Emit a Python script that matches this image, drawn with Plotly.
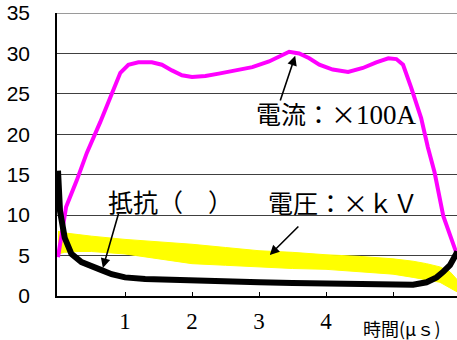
import plotly.graph_objects as go

# --- data (time in µs) ---
current_t = [0, 0.05, 0.12, 0.28, 0.43, 0.63, 0.81, 0.93, 1.05, 1.2, 1.4, 1.55, 1.7, 1.85, 2.0, 2.2,
             2.4, 2.65, 2.9, 3.15, 3.3, 3.45, 3.6, 3.75, 3.9, 4.1, 4.33, 4.55, 4.75, 4.93, 5.05,
             5.15, 5.27, 5.42, 5.52, 5.62, 5.75, 5.85, 5.93, 5.96]
current_v = [4.8, 7.5, 11.0, 14.3, 17.7, 21.5, 25.2, 27.6, 28.6, 28.9, 28.9, 28.6, 27.9, 27.3, 27.1, 27.2,
             27.5, 27.9, 28.3, 29.0, 29.6, 30.2, 30.0, 29.4, 28.6, 28.0, 27.7, 28.2, 28.9, 29.4, 29.3,
             28.6, 25.8, 22.0, 18.4, 15.3, 9.9, 7.5, 5.5, 5.0]

voltage_t = [0, 0.1, 0.3, 0.5, 1.0, 1.5, 2.0, 2.5, 3.0, 3.5, 4.0, 4.5, 5.0, 5.3, 5.5, 5.7, 5.85, 5.96]
voltage_hi = [8.0, 7.8, 7.6, 7.4, 7.0, 6.7, 6.4, 6.0, 5.6, 5.4, 5.1, 4.9, 4.6, 4.3, 4.0, 3.6, 3.0, 2.0]
voltage_lo = [5.2, 5.4, 5.5, 5.5, 5.2, 4.6, 4.0, 3.8, 3.6, 3.4, 3.3, 3.0, 2.7, 2.3, 2.0, 1.7, 1.0, 0.5]

resist_t = [0, 0.03, 0.1, 0.2, 0.35, 0.5, 0.65, 0.8, 1.0, 1.3, 1.6, 2.0, 2.5, 3.0, 3.5, 4.0, 4.5,
            5.0, 5.3, 5.5, 5.65, 5.75, 5.85, 5.93, 5.96]
resist_v = [15.5, 10.5, 7.2, 5.2, 4.2, 3.6, 3.2, 2.7, 2.3, 2.1, 2.0, 1.9, 1.8, 1.7, 1.6, 1.5, 1.4,
            1.3, 1.4, 1.7, 2.3, 3.0, 3.8, 5.0, 5.5]

y_ticks = [0, 5, 10, 15, 20, 25, 30, 35]
x_tick_vals = [1, 2, 3, 4, 5]
x_tick_text = ["1", "2", "3", "4", ""]

W, H = 457, 340
L, R, T, B = 57, 0, 13, 44
PW, PH = W - L - R, H - T - B

fig = go.Figure()

fig.add_trace(go.Scatter(x=voltage_t, y=voltage_lo, mode="lines",
                         line=dict(color="#ffff00", width=1), hoverinfo="skip", showlegend=False))
fig.add_trace(go.Scatter(x=voltage_t, y=voltage_hi, mode="lines", fill="tonexty",
                         fillcolor="#ffff00", line=dict(color="#ffff00", width=1),
                         showlegend=False))
fig.add_trace(go.Scatter(x=current_t, y=current_v, mode="lines",
                         line=dict(color="#ff00ff", width=4), showlegend=False))
fig.add_trace(go.Scatter(x=resist_t, y=resist_v, mode="lines",
                         line=dict(color="#000000", width=6), showlegend=False))

jp = "Noto Sans CJK JP"

# top border
fig.add_shape(type="line", xref="paper", yref="y", x0=0, x1=1, y0=35, y1=35,
              line=dict(color="#9a9a9a", width=2))

ann = []
for (hx, hy, tx, ty) in [(3.54, 29.7, 3.31, 24.0), (0.67, 3.46, 0.91, 10.4), (3.16, 5.07, 3.61, 8.78)]:
    ann.append(dict(x=hx, y=hy, ax=tx, ay=ty, xref="x", yref="y", axref="x", ayref="y",
                    text="", showarrow=True, arrowhead=2, arrowsize=1.2, arrowwidth=1.6,
                    arrowcolor="#000000"))

texts = [
    ("電流：×<span style='font-family:Liberation Serif;font-size:27px'>100A</span>", 254, 113, 25),
    ("抵抗（　）", 106, 201, 25),
    ("電圧：×ｋＶ", 266, 202, 25),
    ("時間(μｓ)", 361, 328, 18),
]
for txt, px, py, fs in texts:
    ann.append(dict(x=(px - L) / PW, y=(H - B - py) / PH, xref="paper", yref="paper", text=txt,
                    showarrow=False, xanchor="left", yanchor="middle",
                    font=dict(family=jp, size=fs, color="#000000")))

fig.update_layout(
    width=W, height=H,
    margin=dict(l=L, r=R, t=T, b=B),
    paper_bgcolor="white", plot_bgcolor="white",
    annotations=ann,
    xaxis=dict(range=[-0.015, 5.955], tickvals=x_tick_vals, ticktext=x_tick_text,
               showgrid=False, zeroline=False, showline=True, linecolor="#000000", linewidth=1.5,
               ticks="inside", ticklen=4, tickcolor="#000000", ticklabelstandoff=4,
               automargin=False,
               tickfont=dict(family="Liberation Serif", size=23, color="#000000")),
    yaxis=dict(range=[0, 35], tickvals=y_ticks, showgrid=True, gridcolor="#404040", gridwidth=1,
               zeroline=False, showline=True, linecolor="#000000", linewidth=1.5,
               ticks="", ticklabelstandoff=21, automargin=False,
               tickfont=dict(family="Liberation Sans", size=21, color="#000000")),
    showlegend=False,
)
fig.write_html("out.html", config={"displayModeBar": False},
               post_script="document.body.style.margin='0';document.body.style.overflow='hidden';")
